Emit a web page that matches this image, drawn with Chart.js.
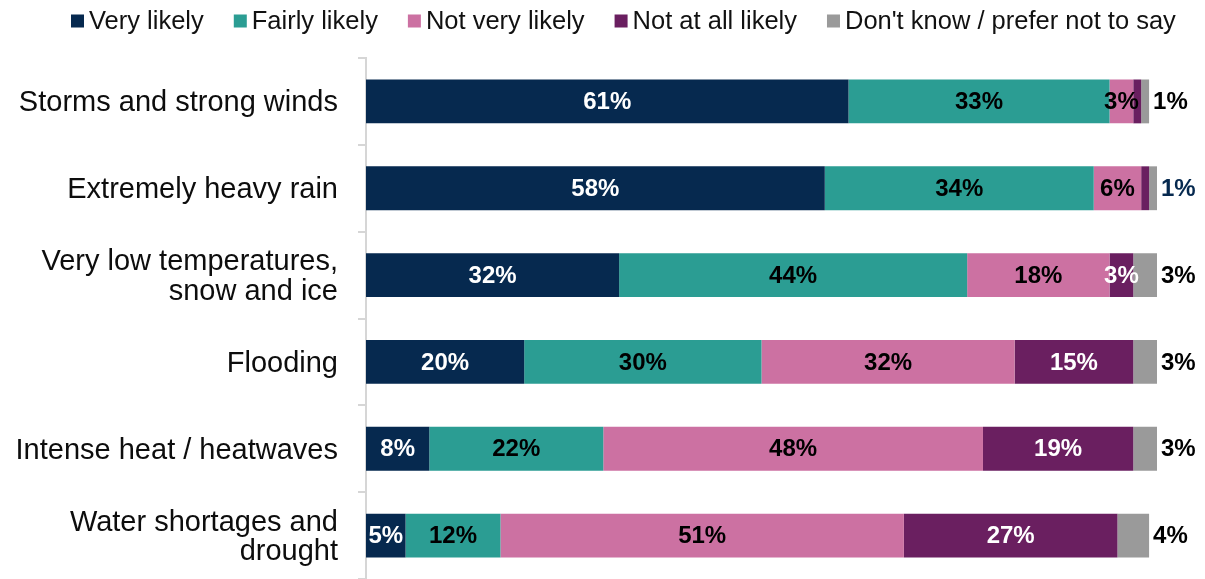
<!DOCTYPE html>
<html>
<head>
<meta charset="utf-8">
<script src="https://cdn.jsdelivr.net/npm/chart.js@4/dist/chart.umd.min.js"></script>
<style>
  html, body { margin: 0; padding: 0; background: #ffffff; }
  #wrap { width: 1205px; height: 579px; position: relative; }
</style>
</head>
<body>
<div id="wrap"><canvas id="c" width="1205" height="579"></canvas></div>
<script>
// Categories (multi-line labels given as arrays)
const categories = [
  'Storms and strong winds',
  'Extremely heavy rain',
  ['Very low temperatures,', 'snow and ice'],
  'Flooding',
  'Intense heat / heatwaves',
  ['Water shortages and', 'drought']
];

// Series names and values (%)
const seriesNames = ['Very likely', 'Fairly likely', 'Not very likely', 'Not at all likely', "Don't know / prefer not to say"];
const veryLikely     = [61, 58, 32, 20, 8, 5];
const fairlyLikely   = [33, 34, 44, 30, 22, 12];
const notVeryLikely  = [3, 6, 18, 32, 48, 51];
const notAtAllLikely = [1, 1, 3, 15, 19, 27];
const dontKnow       = [1, 1, 3, 3, 3, 4];

const seriesColors = ['#06294f', '#2b9d93', '#cc71a2', '#6a1f60', '#9a9a9a'];
const labelColors  = ['#ffffff', '#000000', '#000000', '#ffffff', '#000000'];
const outsideLabelColors = ['#000000', '#06294f', '#000000', '#000000', '#000000', '#000000'];

const FONT = "'Liberation Sans', Arial, sans-serif";

const seriesValues = [veryLikely, fairlyLikely, notVeryLikely, notAtAllLikely, dontKnow];

// Legend drawn across the top of the canvas
const topLegend = {
  id: 'topLegend',
  afterDraw(chart) {
    const ctx = chart.ctx;
    ctx.save();
    ctx.font = `25.5px ${FONT}`;
    ctx.textBaseline = 'middle';
    ctx.textAlign = 'left';
    let x = 71;
    const cy = 21;
    const box = 13;
    chart.data.datasets.forEach((ds, i) => {
      ctx.fillStyle = ds.backgroundColor;
      ctx.fillRect(x, cy - box / 2, box, box);
      x += box + 5;
      ctx.fillStyle = '#111111';
      ctx.fillText(ds.label, x, cy + 1);
      x += ctx.measureText(ds.label).width + 30;
    });
    ctx.restore();
  }
};

// Value labels: inside segments, last series just past the bar end
const valueLabels = {
  id: 'valueLabels',
  afterDatasetsDraw(chart) {
    const ctx = chart.ctx;
    const last = chart.data.datasets.length - 1;
    ctx.save();
    ctx.font = `bold 24px ${FONT}`;
    ctx.textBaseline = 'middle';
    chart.data.datasets.forEach((ds, i) => {
      const meta = chart.getDatasetMeta(i);
      meta.data.forEach((bar, j) => {
        const v = ds.data[j];
        const txt = v + '%';
        if (i === last) {
          ctx.textAlign = 'left';
          ctx.fillStyle = outsideLabelColors[j];
          ctx.fillText(txt, bar.x + 4, bar.y + 1);
        } else {
          if (v <= 1) return;
          ctx.textAlign = 'center';
          ctx.fillStyle = labelColors[i];
          ctx.fillText(txt, (bar.x + bar.base) / 2, bar.y + 1);
        }
      });
    });
    ctx.restore();
  }
};

new Chart(document.getElementById('c'), {
  type: 'bar',
  data: {
    labels: categories,
    datasets: seriesNames.map((name, i) => ({
      label: name,
      data: seriesValues[i],
      backgroundColor: seriesColors[i],
      borderWidth: 0,
      barPercentage: 0.505,
      categoryPercentage: 1.0
    }))
  },
  options: {
    indexAxis: 'y',
    responsive: false,
    animation: false,
    layout: { padding: { top: 58, right: 48, bottom: -2, left: 0 } },
    plugins: {
      legend: { display: false },
      tooltip: { enabled: false }
    },
    scales: {
      x: {
        stacked: true,
        display: false,
        min: 0,
        max: 100
      },
      y: {
        stacked: true,
        afterFit(scale) {
          scale.width = 366;
          scale.paddingTop = 0;
          scale.paddingBottom = 0;
        },
        border: { display: true, color: '#d6d6d6', width: 2 },
        grid: {
          display: true,
          drawOnChartArea: false,
          drawTicks: true,
          tickLength: 8,
          color: '#d6d6d6',
          lineWidth: 2,
          offset: true
        },
        ticks: {
          color: '#0d0d0d',
          padding: 20,
          labelOffset: 2,
          font: { family: FONT, size: 29, lineHeight: 1.02 },
          autoSkip: false
        }
      }
    }
  },
  plugins: [topLegend, valueLabels]
});
</script>
</body>
</html>
